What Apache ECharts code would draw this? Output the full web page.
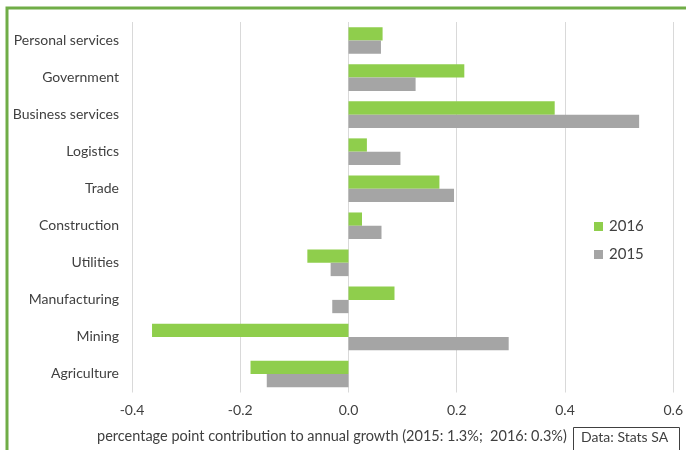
<!DOCTYPE html>
<html>
<head>
<meta charset="utf-8">
<script src="https://cdn.jsdelivr.net/npm/echarts@6/dist/echarts.min.js"></script>
<style>
  html, body { margin: 0; padding: 0; background: #ffffff; }
  #chart { width: 686px; height: 450px; }
</style>
</head>
<body>
<div id="chart"></div>
<script>
// Sectors, listed top to bottom
const sectors = ['Personal services', 'Government', 'Business services', 'Logistics', 'Trade',
  'Construction', 'Utilities', 'Manufacturing', 'Mining', 'Agriculture'];

// Percentage-point contribution to annual GDP growth
const values2016 = [0.063, 0.214, 0.381, 0.034, 0.168, 0.025, -0.076, 0.085, -0.363, -0.181];
const values2015 = [0.060, 0.124, 0.537, 0.096, 0.195, 0.061, -0.033, -0.030, 0.296, -0.151];

const xTicks = { min: -0.4, max: 0.6, interval: 0.2 };
const axisTitle = 'percentage point contribution to annual growth (2015: 1.3%;  2016: 0.3%)';
const sourceNote = 'Data: Stats SA';

const FONT = 'Lato, "Open Sans", sans-serif';
const TEXT = '#404040';

const chart = echarts.init(document.getElementById('chart'), null, { renderer: 'canvas' });

chart.setOption({
  animation: false,
  backgroundColor: '#ffffff',
  grid: { left: 132, right: 12, top: 22, bottom: 57.5, containLabel: false },
  legend: {
    orient: 'vertical',
    left: 589,
    top: 214,
    itemWidth: 9,
    itemHeight: 9,
    itemGap: 13,
    icon: 'rect',
    textStyle: { fontFamily: FONT, fontSize: 15, color: TEXT, padding: [0, 0, 0, 1] },
    data: ['2016', '2015']
  },
  xAxis: {
    type: 'value',
    min: xTicks.min,
    max: xTicks.max,
    interval: xTicks.interval,
    axisLine: { show: false },
    axisTick: { show: false },
    splitLine: { lineStyle: { color: '#d9d9d9', width: 1 } },
    axisLabel: {
      fontFamily: FONT, fontSize: 14, color: TEXT, margin: 11,
      formatter: v => v.toFixed(1)
    }
  },
  yAxis: {
    type: 'category',
    inverse: true,
    data: sectors,
    axisLine: { show: false },
    axisTick: { show: false },
    splitLine: { show: false },
    axisLabel: { fontFamily: FONT, fontSize: 14, color: TEXT, margin: 13 }
  },
  series: [
    {
      name: '2016', type: 'bar', data: values2016,
      barWidth: 13.3, barGap: '0%',
      itemStyle: { color: '#8fce4c' }
    },
    {
      name: '2015', type: 'bar', data: values2015,
      barWidth: 13.3, barGap: '0%',
      itemStyle: { color: '#a5a5a5' }
    }
  ],
  graphic: [
    {
      type: 'rect',
      shape: { x: 7, y: 8, width: 720, height: 520 },
      style: { fill: 'none', stroke: '#70ad47', lineWidth: 3 },
      silent: true
    },
    {
      type: 'text',
      left: 97, top: 429,
      style: { text: axisTitle, font: '14.5px ' + FONT, fill: TEXT }
    },
    {
      type: 'rect',
      shape: { x: 573.5, y: 427.5, width: 106, height: 30 },
      style: { fill: '#ffffff', stroke: '#404040', lineWidth: 1 }
    },
    {
      type: 'text',
      left: 581, top: 430,
      style: { text: sourceNote, font: '14px ' + FONT, fill: TEXT }
    }
  ]
});
</script>
</body>
</html>
